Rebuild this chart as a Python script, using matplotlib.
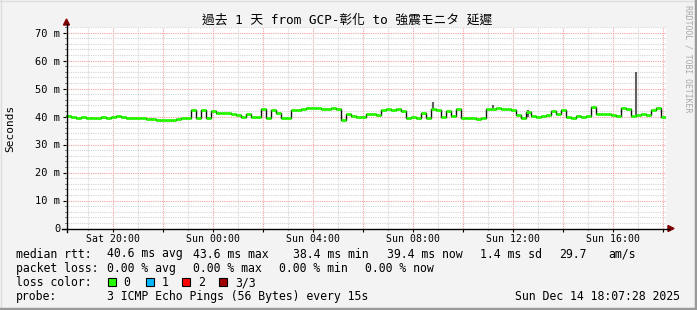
import datetime as dt
import matplotlib
matplotlib.use('Agg')
import matplotlib.pyplot as plt
import matplotlib.dates as mdates
from matplotlib.lines import Line2D
from matplotlib.patches import Polygon, Rectangle
from matplotlib.ticker import MultipleLocator, FuncFormatter

MONO = ['DejaVu Sans Mono', 'Noto Sans CJK TC']
W, H = 697, 310

# --- data (median rtt in ms, one value per 12 minutes) ---
start = dt.datetime(2025, 12, 13, 18, 7, 28)
step_min = 12
median_ms = [
    40.1, 40.0, 39.6, 39.7, 39.4, 39.5, 39.4, 40.0, 39.6, 39.7,
    40.3, 39.7, 39.5, 39.6, 39.5, 39.3, 39.2, 39.0, 38.9, 38.8,
    38.9, 38.7, 39.0, 39.4, 39.5, 42.4, 39.4, 42.2, 39.6, 42.0,
    41.3, 41.1, 41.2, 40.8, 40.6, 40.0, 40.9, 39.9, 39.7, 42.6,
    39.6, 42.4, 41.3, 39.6, 39.4, 42.3, 42.2, 42.8, 43.0, 42.9,
    43.1, 42.8, 42.7, 42.9, 42.6, 38.8, 40.8, 40.1, 39.8, 40.0,
    40.9, 41.0, 40.5, 42.4, 42.7, 42.5, 42.6, 41.9, 39.3, 39.7,
    39.5, 41.2, 39.5, 42.7, 42.2, 40.0, 41.9, 40.2, 42.6, 39.4,
    39.3, 39.5, 39.2, 39.4, 42.8, 42.7, 42.9, 42.6, 42.8, 42.5,
    40.4, 39.6, 41.5, 40.3, 39.8, 40.1, 40.5, 42.0, 40.8, 42.3,
    39.8, 39.6, 40.3, 39.9, 40.2, 43.3, 41.0, 40.8, 40.9, 40.6,
    40.2, 43.2, 42.6, 40.3, 40.6, 40.8, 40.5, 42.2, 43.2, 40.0,
]
# smoke spikes (hours after start, low, high in ms)
smoke_hours = [14.68, 17.08, 18.48, 22.8]
smoke_lo = [42.2, 42.7, 40.0, 40.6]
smoke_hi = [45.3, 44.1, 42.3, 55.9]

rtt_stats = [40.6, 43.6, 38.4, 39.4]
rtt_sd = 1.4
rtt_ams = 29.7
loss_stats = [0.00, 0.00, 0.00, 0.00]
loss_labels = ['0', '1', '2', '3/3']
loss_colors = ['#26ff00', '#00b8ff', '#ff0000', '#a00000']
now_text = 'Sun Dec 14 18:07:28 2025'

def fx(x):
    return x / W

def fy(y):
    return 1 - y / H

fig = plt.figure(figsize=(W / 100, H / 100), dpi=100, facecolor='#f3f3f3')
ax = fig.add_axes([fx(66), 81.5 / H, 600 / W, 201.6 / H])
ax.set_facecolor('white')

edges = [start + dt.timedelta(minutes=step_min * i) for i in range(len(median_ms) + 1)]
ax.step(edges, median_ms + [median_ms[-1]], where='post', color='#111111', lw=1.0, zorder=3)
ax.hlines(median_ms, edges[:-1], edges[1:], color=loss_colors[0], lw=2.0, zorder=4)
smoke_t = [start + dt.timedelta(hours=h) for h in smoke_hours]
ax.vlines(smoke_t, smoke_lo, smoke_hi, color='#606060', lw=1.5, zorder=2)

ax.set_xlim(start, start + dt.timedelta(hours=24))
ax.set_ylim(0, 72)

ax.yaxis.set_major_locator(MultipleLocator(10))
ax.yaxis.set_minor_locator(MultipleLocator(2))
ax.yaxis.set_major_formatter(FuncFormatter(lambda v, p: '0' if v == 0 else f'{v:.0f} m'))
ax.xaxis.set_major_locator(mdates.HourLocator(byhour=range(0, 24, 2)))
ax.xaxis.set_minor_locator(mdates.HourLocator())

def xfmt(v, p):
    d = mdates.num2date(v)
    return d.strftime('%a %H:%M') if d.hour % 4 == 0 else ''

ax.xaxis.set_major_formatter(FuncFormatter(xfmt))

ax.grid(which='minor', color='#d4d4d4', linestyle=(0, (1, 1)), lw=0.8)
ax.grid(which='major', color='#f4a0a0', linestyle=(0, (1, 1)), lw=0.8)
ax.set_axisbelow(True)
for s in ax.spines.values():
    s.set_visible(False)

ax.tick_params(which='major', length=2, width=0.8, color='black', pad=2)
ax.tick_params(which='minor', length=1, width=0.6, color='black')
for lbl in ax.get_yticklabels():
    lbl.set_fontfamily(MONO)
    lbl.set_fontsize(7.5)
for lbl in ax.get_xticklabels():
    lbl.set_fontfamily(MONO)
    lbl.set_fontsize(7.1)

# axes with arrows
fig.add_artist(Line2D([fx(62), fx(669)], [fy(228.5), fy(228.5)], color='black', lw=1))
fig.add_artist(Line2D([fx(66.5), fx(66.5)], [fy(232), fy(24)], color='black', lw=1))
fig.add_artist(Polygon([[fx(668), fy(225.5)], [fx(668), fy(231.5)], [fx(674), fy(228.5)]],
                       closed=True, color='#800000'))
fig.add_artist(Polygon([[fx(63.5), fy(25)], [fx(69.5), fy(25)], [fx(66.5), fy(19)]],
                       closed=True, color='#800000'))

# frame border
fig.add_artist(Line2D([0, 1], [fy(0.5), fy(0.5)], color='#dedede', lw=1))
fig.add_artist(Line2D([fx(0.5), fx(0.5)], [0, 1], color='#dedede', lw=1))
fig.add_artist(Line2D([0, 1], [fy(308.5), fy(308.5)], color='#9a9a9a', lw=2.5))
fig.add_artist(Line2D([fx(695.5), fx(695.5)], [0, 1], color='#9a9a9a', lw=2.5))

# texts
fig.text(fx(347), fy(20), '過去 1 天 from GCP-彰化 to 強震モニタ 延遲', ha='center', va='center',
         fontsize=9.2, family=MONO)
fig.text(fx(10), fy(128), 'Seconds', rotation=90, ha='center', va='center', fontsize=8, family=MONO)
fig.text(fx(688), fy(5), 'RRDTOOL / TOBI OETIKER', rotation=270, ha='center', va='top',
         fontsize=5.9, color='#a8a8a8', family=MONO)

LF = 8.3
def ltext(x, y, s, ha='left'):
    fig.text(fx(x), fy(y), s, ha=ha, va='center', fontsize=LF, family=MONO)

ltext(16, 254, 'median rtt:')
for x, v, tag in zip([107, 193, 293, 387], rtt_stats, ['avg', 'max', 'min', 'now']):
    ltext(x, 254, f'{v:.1f} ms {tag}')
ltext(480, 254, f'{rtt_sd:.1f} ms sd')
ltext(559, 254, f'{rtt_ams:.1f}')
ltext(608, 254, 'am/s')

ltext(16, 268.5, 'packet loss:')
for x, v, tag in zip([107, 193, 279, 365], loss_stats, ['avg', 'max', 'min', 'now']):
    ltext(x, 268.5, f'{v:.2f} % {tag}')

ltext(16, 282.5, 'loss color:')
for bx, tx, c, lab in zip([108, 146, 182, 219], [123, 162, 198, 235], loss_colors, loss_labels):
    fig.add_artist(Rectangle((fx(bx), fy(286)), 8 / W, 8 / H, facecolor=c, edgecolor='black', lw=0.8))
    ltext(tx, 282.5, lab)

ltext(16, 296.5, 'probe:')
ltext(107, 296.5, '3 ICMP Echo Pings (56 Bytes) every 15s')
ltext(680, 296.5, now_text, ha='right')

fig.savefig('out.png', dpi=100, facecolor=fig.get_facecolor())
